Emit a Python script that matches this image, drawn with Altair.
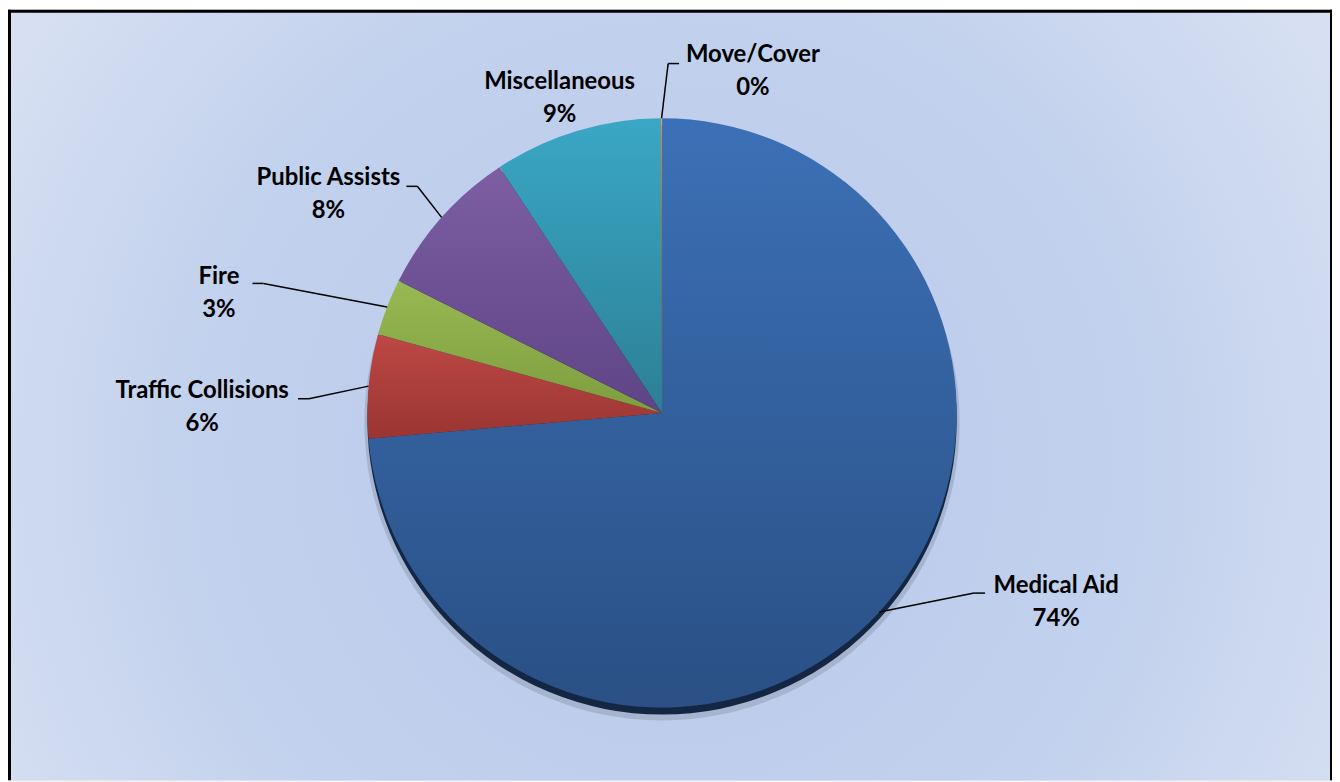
import math
import altair as alt
import pandas as pd

# ---- data ----
categories = ["Medical Aid", "Traffic Collisions", "Fire", "Public Assists", "Miscellaneous", "Move/Cover"]
values = [73.6, 5.7, 3.1, 8.3, 9.25, 0.05]

# ---- label placement options (degrees clockwise from 12 o'clock, pixels from pie centre) ----
label_angle = [115.6, 270.7, 285.1, 303.3, 342.0, 14.9]
label_radius = [439, 462, 461, 401, 333, 355]
leader_angle = [120.0, 272.3, 288.0, 312.8, 0.0, 1.0]
leader_radius = [362, 355, 421, 335, 0, 351]
leader_side = [1, -1, -1, -1, 0, 1]
has_leader = [1, 1, 1, 1, 0, 1]

# ---- styles ----
slice_top = ["#3c70b6", "#be4845", "#98b853", "#7d5ea2", "#3aa7c5", "#f79646"]
slice_bottom = ["#2a5085", "#9a3532", "#7e9e3f", "#5e4486", "#2c7f95", "#d87a2c"]

W, H = 1330, 774
CX, CY, R = 657, 405, 296

df = pd.DataFrame({
    "category": categories,
    "value": values,
    "order": list(range(len(categories))),
    "label_angle": label_angle,
    "label_radius": label_radius,
    "leader_angle": leader_angle,
    "leader_radius": leader_radius,
    "leader_side": leader_side,
    "has_leader": has_leader,
})

theta_scale = alt.Scale(domain=[0, 360], range=[0, 2 * math.pi])

base = (
    alt.Chart(df)
    .transform_joinaggregate(total="sum(value)")
    .transform_window(cum="sum(value)", sort=[alt.SortField("order")], frame=[None, 0])
    .transform_calculate(
        start_deg="(datum.cum - datum.value) / datum.total * 360",
        end_deg="datum.cum / datum.total * 360",
        mid="(datum.cum - datum.value / 2) / datum.total * 2 * PI",
        pct='format(datum.value / datum.total, ".0%")',
    )
)

one = alt.Chart(pd.DataFrame({"a": [0]}))

background = one.mark_rect(
    fill={
        "gradient": "radial",
        "x1": 0.5, "y1": 0.55, "r1": 0,
        "x2": 0.5, "y2": 0.55, "r2": 0.72,
        "stops": [
            {"offset": 0, "color": "#b7c9ea"},
            {"offset": 0.5, "color": "#c2d1ed"},
            {"offset": 1, "color": "#e3e9f5"},
        ],
    }
).encode(x=alt.value(0), x2=alt.value(W), y=alt.value(0), y2=alt.value(H))

soft_shadow = one.mark_arc(theta=0, theta2=2 * math.pi, radius=R + 3, color="#000000", opacity=0.12).encode(
    x=alt.value(CX), y=alt.value(CY + 10)
)
edge = one.mark_arc(theta=0, theta2=2 * math.pi, radius=R, color="#132744").encode(
    x=alt.value(CX), y=alt.value(CY + 7)
)

slices = []
for i, cat in enumerate(categories):
    slices.append(
        base.transform_filter(alt.datum.category == cat)
        .mark_arc(
            radius=R,
            fill={
                "gradient": "linear",
                "x1": 0, "y1": 0, "x2": 0, "y2": 1,
                "stops": [
                    {"offset": 0, "color": slice_top[i]},
                    {"offset": 1, "color": slice_bottom[i]},
                ],
            },
        )
        .encode(
            theta=alt.Theta("start_deg:Q", scale=theta_scale),
            theta2=alt.Theta2("end_deg"),
            x=alt.value(CX),
            y=alt.value(CY),
        )
    )

leaders = base.transform_filter("datum.has_leader == 1").transform_calculate(
    ex=f"{CX} + {R} * sin(datum.mid)",
    ey=f"{CY} - {R} * cos(datum.mid)",
    bx=f"{CX} + datum.leader_radius * sin(datum.leader_angle * PI / 180)",
    by=f"{CY} - datum.leader_radius * cos(datum.leader_angle * PI / 180)",
    tx="datum.bx + datum.leader_side * 11",
)
leader1 = leaders.mark_rule(color="black", strokeWidth=1.5).encode(
    x=alt.X("ex:Q", scale=None, axis=None),
    y=alt.Y("ey:Q", scale=None, axis=None),
    x2=alt.X2("bx"),
    y2=alt.Y2("by"),
)
leader2 = leaders.mark_rule(color="black", strokeWidth=1.5).encode(
    x=alt.X("bx:Q", scale=None, axis=None),
    y=alt.Y("by:Q", scale=None, axis=None),
    x2=alt.X2("tx"),
)

text_style = dict(font="Lato", fontWeight="bold", fontSize=24, color="black", align="center", baseline="middle")
name_text = base.mark_text(dy=-16, **text_style).encode(
    theta=alt.Theta("label_angle:Q", scale=theta_scale, stack=False),
    radius=alt.Radius("label_radius:Q", scale=None),
    x=alt.value(CX),
    y=alt.value(CY),
    text="category:N",
)
pct_text = base.mark_text(dy=17, **text_style).encode(
    theta=alt.Theta("label_angle:Q", scale=theta_scale, stack=False),
    radius=alt.Radius("label_radius:Q", scale=None),
    x=alt.value(CX),
    y=alt.value(CY),
    text="pct:N",
)

border_top = one.mark_rule(color="black", strokeWidth=3).encode(x=alt.value(0), x2=alt.value(W), y=alt.value(1.5))
border_left = one.mark_rule(color="black", strokeWidth=3).encode(x=alt.value(1.5), y=alt.value(0), y2=alt.value(H))
border_right = one.mark_rule(color="black", strokeWidth=2).encode(x=alt.value(W - 1), y=alt.value(0), y2=alt.value(H))

chart = (
    alt.layer(background, soft_shadow, edge, *slices, leader1, leader2, name_text, pct_text,
              border_top, border_left, border_right)
    .properties(width=W, height=H, padding=0, autosize=alt.AutoSizeParams(type="none"))
    .configure_view(strokeWidth=0)
    .configure(background="#ffffff")
)

chart.save("out.html", embed_options={"renderer": "svg", "actions": False})
